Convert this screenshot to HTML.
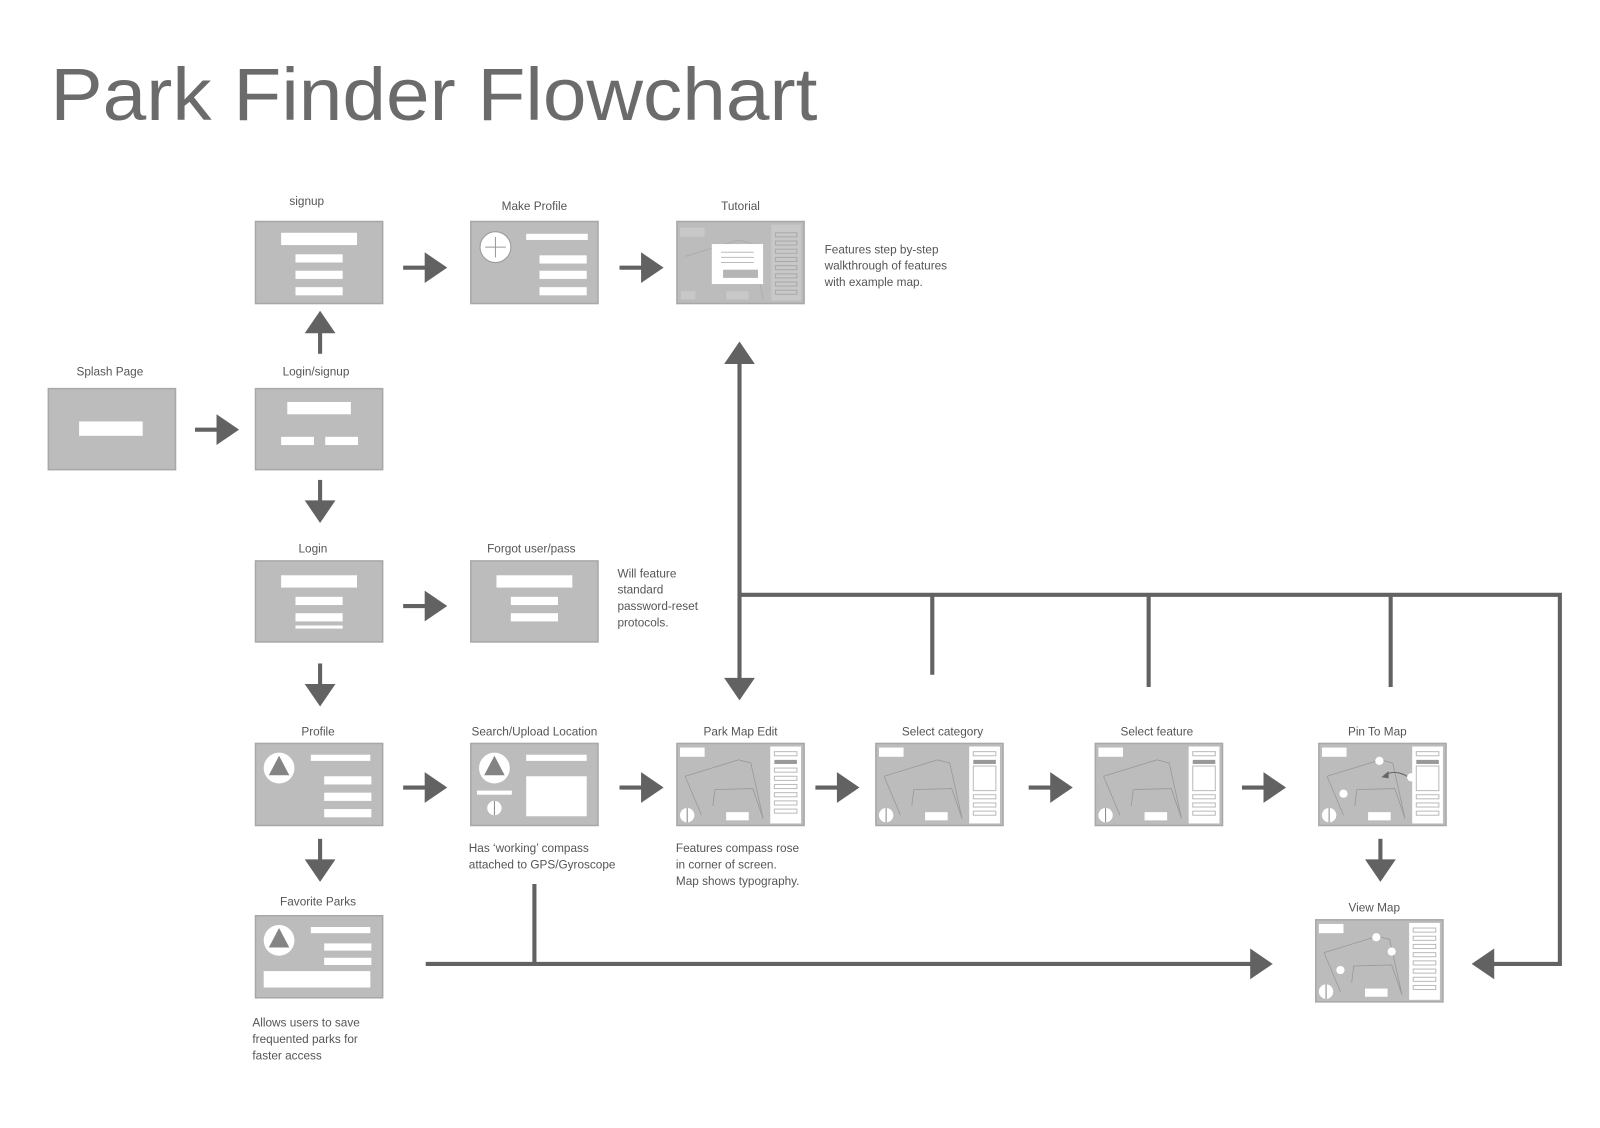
<!DOCTYPE html>
<html><head><meta charset="utf-8"><style>
html,body{margin:0;padding:0;background:#fff;}
svg{display:block;font-family:"Liberation Sans",sans-serif;}
</style></head><body>
<svg width="1600" height="1128" viewBox="0 0 1560 1100" xmlns="http://www.w3.org/2000/svg">
<text x="49" y="117" font-size="72" fill="#6b6b6b" textLength="748" lengthAdjust="spacingAndGlyphs">Park Finder Flowchart</text>

<g font-size="11.5" fill="#555" text-anchor="middle">
<text x="107" y="366">Splash Page</text>
<text x="308" y="366">Login/signup</text>
<text x="299" y="200">signup</text>
<text x="521" y="205">Make Profile</text>
<text x="722" y="205">Tutorial</text>
<text x="305" y="539">Login</text>
<text x="518" y="539">Forgot user/pass</text>
<text x="310" y="717">Profile</text>
<text x="521" y="717">Search/Upload Location</text>
<text x="722" y="717">Park Map Edit</text>
<text x="919" y="717">Select category</text>
<text x="1128" y="717">Select feature</text>
<text x="1343" y="717">Pin To Map</text>
<text x="1340" y="889">View Map</text>
<text x="310" y="883">Favorite Parks</text>
</g>
<g font-size="11.5" fill="#555">
<text x="804" y="247">Features step by-step</text>
<text x="804" y="263">walkthrough of features</text>
<text x="804" y="279">with example map.</text>
<text x="602" y="563">Will feature</text>
<text x="602" y="579">standard</text>
<text x="602" y="595">password-reset</text>
<text x="602" y="611">protocols.</text>
<text x="457" y="831">Has ‘working’ compass</text>
<text x="457" y="847">attached to GPS/Gyroscope</text>
<text x="659" y="831">Features compass rose</text>
<text x="659" y="847">in corner of screen.</text>
<text x="659" y="863">Map shows typography.</text>
<text x="246" y="1001">Allows users to save</text>
<text x="246" y="1017">frequented parks for</text>
<text x="246" y="1033">faster access</text>
</g>

<g fill="#bcbcbc" stroke="#a8a8a8" stroke-width="1.5">
<rect x="47" y="379" width="124" height="79"/>
<rect x="249" y="379" width="124" height="79"/>
<rect x="249" y="216" width="124" height="80"/>
<rect x="459" y="216" width="124" height="80"/>
<rect x="660" y="216" width="124" height="80"/>
<rect x="249" y="547" width="124" height="79"/>
<rect x="459" y="547" width="124" height="79"/>
<rect x="249" y="725" width="124" height="80"/>
<rect x="459" y="725" width="124" height="80"/>
<rect x="660" y="725" width="124" height="80"/>
<rect x="854" y="725" width="124" height="80"/>
<rect x="1068" y="725" width="124" height="80"/>
<rect x="1286" y="725" width="124" height="80"/>
<rect x="1283" y="897" width="124" height="80"/>
<rect x="249" y="893" width="124" height="80"/>
</g>

<g fill="#fff">
<rect x="77" y="411" width="62" height="14"/>
<rect x="280" y="392" width="62" height="12"/><rect x="274" y="426" width="32" height="8"/><rect x="317" y="426" width="32" height="8"/>
<rect x="274" y="227" width="74" height="12"/><rect x="288" y="248" width="46" height="8"/><rect x="288" y="264" width="46" height="8"/><rect x="288" y="280" width="46" height="8"/>
<circle cx="483" cy="241" r="15" stroke="#999" stroke-width="1"/><rect x="513" y="228" width="60" height="6"/><rect x="526" y="249" width="46" height="8"/><rect x="526" y="264" width="46" height="8"/><rect x="526" y="280" width="46" height="8"/>
<rect x="274" y="561" width="74" height="12"/><rect x="288" y="582" width="46" height="8"/><rect x="288" y="598" width="46" height="8"/><rect x="288" y="610" width="46" height="3"/>
<rect x="484" y="561" width="74" height="12"/><rect x="498" y="582" width="46" height="8"/><rect x="498" y="598" width="46" height="8"/>
<circle cx="272" cy="749" r="15"/><rect x="303" y="736" width="58" height="6"/><rect x="316" y="757" width="46" height="8"/><rect x="316" y="773" width="46" height="8"/><rect x="316" y="789" width="46" height="8"/>
<circle cx="482" cy="749" r="15"/><rect x="513" y="736" width="59" height="6"/><rect x="513" y="757" width="59" height="39"/><rect x="465" y="771" width="34" height="4"/><circle cx="482" cy="788" r="7"/>
<circle cx="272" cy="917" r="15"/><rect x="303" y="904" width="58" height="6"/><rect x="316" y="920" width="46" height="7"/><rect x="316" y="934" width="46" height="7"/><rect x="257" y="947" width="104" height="16"/>
</g>
<g stroke="#999" stroke-width="1"><line x1="473" y1="241" x2="493" y2="241"/><line x1="483" y1="231" x2="483" y2="251"/></g>
<g fill="#848484">
<polygon points="272,737 262,756 282,756"/><polygon points="482,737 472,756 492,756"/><polygon points="272,905 262,924 282,924"/>
</g>
<line x1="482" y1="781" x2="482" y2="795" stroke="#888" stroke-width="1"/>

<g>
<rect x="663" y="222" width="24" height="9" fill="#c8c8c8"/>
<rect x="752" y="219" width="29" height="74" fill="#c8c8c8"/>
<path d="M668,250 L720,234 L732,237 L744,291" fill="none" stroke="#aaa" stroke-width="0.8"/>
<g fill="none" stroke="#aaa" stroke-width="1">
<rect x="756" y="227" width="21" height="4"/><rect x="756" y="235" width="21" height="4"/><rect x="756" y="243" width="21" height="4"/><rect x="756" y="251" width="21" height="4"/><rect x="756" y="259" width="21" height="4"/><rect x="756" y="267" width="21" height="4"/><rect x="756" y="275" width="21" height="4"/><rect x="756" y="283" width="21" height="4"/>
</g>
<rect x="694" y="238" width="50" height="39" fill="#fff"/>
<g stroke="#bbb"><line x1="703" y1="246" x2="735" y2="246"/><line x1="703" y1="251" x2="735" y2="251"/><line x1="703" y1="256" x2="735" y2="256"/></g>
<rect x="705" y="263" width="34" height="8" fill="#b5b5b5"/>
<rect x="664" y="284" width="14" height="8" fill="#c8c8c8"/><rect x="708" y="284" width="22" height="8" fill="#c8c8c8"/>
</g>

<g id="map">
<rect x="663" y="729" width="24" height="9" fill="#fff"/>
<path d="M668,757 L720,741 L732,744 L744,798" fill="none" stroke="#999" stroke-width="0.8"/>
<path d="M668,757 L684,795" fill="none" stroke="#999" stroke-width="0.8"/>
<path d="M695,786 L697,770 L734,769 L744,798" fill="none" stroke="#999" stroke-width="0.8"/>
<rect x="708" y="792" width="22" height="8" fill="#fff"/>
<circle cx="670" cy="795" r="7" fill="#fff"/><line x1="670" y1="788" x2="670" y2="802" stroke="#888"/>
</g>
<rect x="751" y="728" width="30" height="75" fill="#fff"/>
<g fill="none" stroke="#bbb" stroke-width="1"><rect x="755" y="733" width="22" height="4"/><rect x="755" y="749" width="22" height="4"/><rect x="755" y="757" width="22" height="4"/><rect x="755" y="765" width="22" height="4"/><rect x="755" y="773" width="22" height="4"/><rect x="755" y="781" width="22" height="4"/><rect x="755" y="789" width="22" height="4"/></g>
<rect x="755" y="741" width="22" height="4" fill="#999"/>

<use href="#map" x="194"/>
<rect x="945" y="728" width="30" height="75" fill="#fff"/>
<rect x="949" y="741" width="22" height="4" fill="#999"/>
<g fill="none" stroke="#bbb"><rect x="949" y="733" width="22" height="4"/><rect x="949" y="747" width="22" height="24"/><rect x="949" y="775" width="22" height="4"/><rect x="949" y="783" width="22" height="4"/><rect x="949" y="791" width="22" height="4"/></g>

<use href="#map" x="408"/>
<rect x="1159" y="728" width="30" height="75" fill="#fff"/>
<rect x="1163" y="741" width="22" height="4" fill="#999"/>
<g fill="none" stroke="#bbb"><rect x="1163" y="733" width="22" height="4"/><rect x="1163" y="747" width="22" height="24"/><rect x="1163" y="775" width="22" height="4"/><rect x="1163" y="783" width="22" height="4"/><rect x="1163" y="791" width="22" height="4"/></g>

<use href="#map" x="626"/>
<rect x="1377" y="728" width="30" height="75" fill="#fff"/>
<rect x="1381" y="741" width="22" height="4" fill="#999"/>
<g fill="none" stroke="#bbb"><rect x="1381" y="733" width="22" height="4"/><rect x="1381" y="747" width="22" height="24"/><rect x="1381" y="775" width="22" height="4"/><rect x="1381" y="783" width="22" height="4"/><rect x="1381" y="791" width="22" height="4"/></g>
<circle cx="1345" cy="742" r="4" fill="#fff"/><circle cx="1310" cy="774" r="4" fill="#fff"/><circle cx="1376" cy="758" r="4" fill="#fff"/>
<path d="M1372,757 Q1360,750 1350,756" fill="none" stroke="#666"/><polygon points="1347,758 1354,752 1354,759" fill="#666"/>

<use href="#map" x="623" y="172"/>
<rect x="1374" y="900" width="30" height="75" fill="#fff"/>
<g fill="none" stroke="#bbb"><rect x="1378" y="905" width="22" height="4"/><rect x="1378" y="913" width="22" height="4"/><rect x="1378" y="921" width="22" height="4"/><rect x="1378" y="929" width="22" height="4"/><rect x="1378" y="937" width="22" height="4"/><rect x="1378" y="945" width="22" height="4"/><rect x="1378" y="953" width="22" height="4"/><rect x="1378" y="961" width="22" height="4"/></g>
<circle cx="1342" cy="914" r="4" fill="#fff"/><circle cx="1357" cy="928" r="4" fill="#fff"/><circle cx="1307" cy="946" r="4" fill="#fff"/>

<g stroke="#626262" stroke-width="4" fill="none">
<line x1="190" y1="419" x2="212" y2="419"/>
<line x1="393" y1="261" x2="415" y2="261"/>
<line x1="604" y1="261" x2="626" y2="261"/>
<line x1="393" y1="591" x2="415" y2="591"/>
<line x1="393" y1="768" x2="415" y2="768"/>
<line x1="604" y1="768" x2="626" y2="768"/>
<line x1="795" y1="768" x2="817" y2="768"/>
<line x1="1003" y1="768" x2="1025" y2="768"/>
<line x1="1211" y1="768" x2="1233" y2="768"/>
<line x1="312" y1="345" x2="312" y2="324"/>
<line x1="312" y1="468" x2="312" y2="489"/>
<line x1="312" y1="647" x2="312" y2="668"/>
<line x1="312" y1="818" x2="312" y2="839"/>
<line x1="1346" y1="818" x2="1346" y2="839"/>
<line x1="721" y1="354" x2="721" y2="662"/>
<polyline points="721,580 1521,580 1521,940 1456,940"/>
<line x1="909" y1="580" x2="909" y2="658"/>
<line x1="1120" y1="580" x2="1120" y2="670"/>
<line x1="1356" y1="580" x2="1356" y2="670"/>
<line x1="415" y1="940" x2="1220" y2="940"/>
<line x1="521" y1="862" x2="521" y2="940"/>
</g>
<g fill="#626262">
<polygon points="211,404 233,419 211,434"/>
<polygon points="414,246 436,261 414,276"/>
<polygon points="625,246 647,261 625,276"/>
<polygon points="414,576 436,591 414,606"/>
<polygon points="414,753 436,768 414,783"/>
<polygon points="625,753 647,768 625,783"/>
<polygon points="816,753 838,768 816,783"/>
<polygon points="1024,753 1046,768 1024,783"/>
<polygon points="1232,753 1254,768 1232,783"/>
<polygon points="297,325 312,303 327,325"/>
<polygon points="297,488 312,510 327,488"/>
<polygon points="297,667 312,689 327,667"/>
<polygon points="297,838 312,860 327,838"/>
<polygon points="1331,838 1346,860 1361,838"/>
<polygon points="706,355 721,333 736,355"/>
<polygon points="706,661 721,683 736,661"/>
<polygon points="1219,925 1241,940 1219,955"/>
<polygon points="1457,925 1435,940 1457,955"/>
</g>
</svg>
</body></html>
